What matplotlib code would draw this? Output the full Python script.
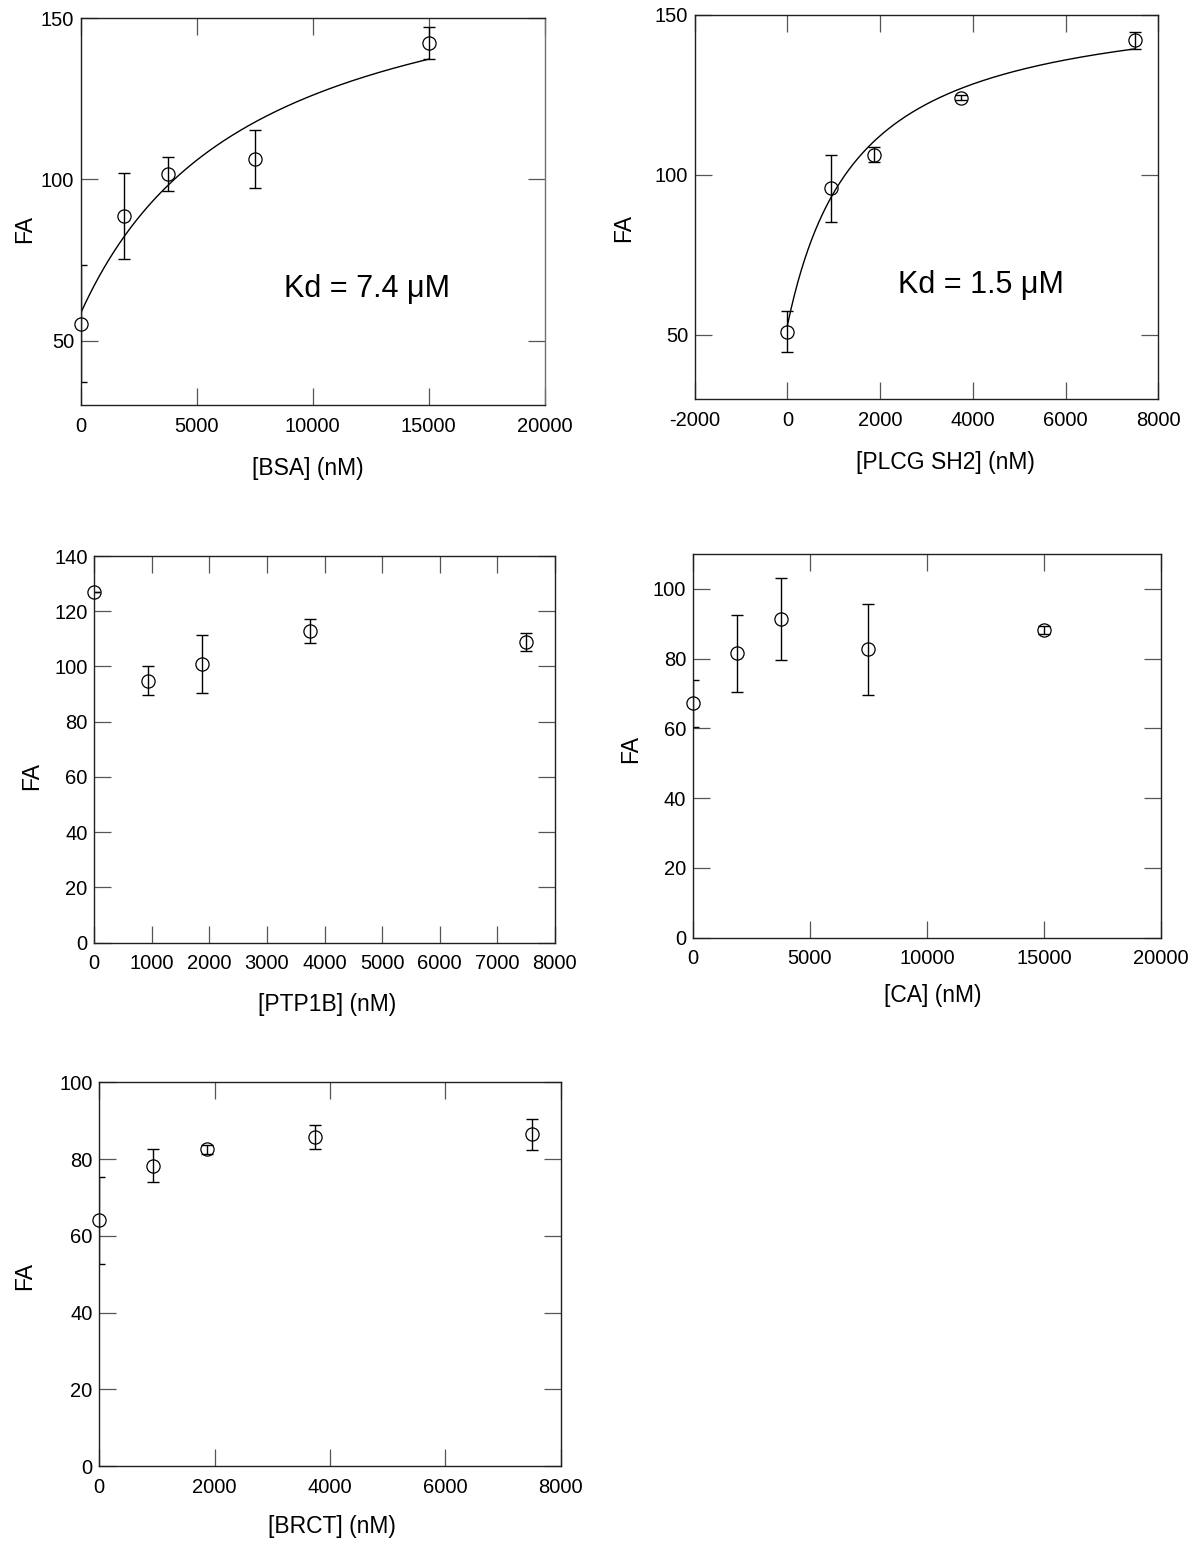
import numpy as np
import matplotlib
matplotlib.use("Agg")
import matplotlib.pyplot as plt

plt.rcParams['font.family'] = ['Liberation Sans', 'DejaVu Sans']
plt.rcParams['axes.unicode_minus'] = False

# ---- data -------------------------------------------------------------
# BSA titration
bsa_conc = [0, 1875, 3750, 7500, 15000]
bsa_fa = [55.2, 88.6, 101.8, 106.2, 142.4]
bsa_err = [18.2, 13.3, 5.3, 9.0, 5.0]
bsa_kd = 7400          # nM
bsa_fa0, bsa_span = 58.5, 117.7

# PLCG SH2 titration
plcg_conc = [0, 937.5, 1875, 3750, 7500]
plcg_fa = [51.0, 95.8, 106.4, 124.2, 142.1]
plcg_err = [6.4, 10.5, 2.3, 0.8, 2.6]
plcg_kd = 1500         # nM
plcg_fa0, plcg_span = 53.0, 103.7

# PTP1B titration
ptp_conc = [0, 937.5, 1875, 3750, 7500]
ptp_fa = [127.1, 94.8, 100.9, 112.9, 108.8]
ptp_err = [0.0, 5.3, 10.5, 4.3, 3.2]

# CA titration
ca_conc = [0, 1875, 3750, 7500, 15000]
ca_fa = [67.2, 81.5, 91.3, 82.7, 88.3]
ca_err = [6.7, 11.1, 11.7, 13.0, 1.2]

# BRCT titration
brct_conc = [0, 937.5, 1875, 3750, 7500]
brct_fa = [64.0, 78.3, 82.5, 85.7, 86.4]
brct_err = [11.3, 4.4, 1.2, 3.1, 4.0]

# ---- figure -----------------------------------------------------------
W, H = 1193, 1543
fig = plt.figure(figsize=(W / 100, H / 100), dpi=100)


def make_axes(L, R, T, B):
    return fig.add_axes([L / W, 1 - B / H, (R - L) / W, (B - T) / H])


def style(ax, xlim, ylim, xticks, yticks, xlabel, ylabel, box, xlab_px, ylab_px):
    L, R, T, B = box
    ax.set_xlim(*xlim)
    ax.set_ylim(*ylim)
    ax.set_xticks(xticks)
    ax.set_yticks(yticks)
    ax.tick_params(axis='both', which='major', direction='in', top=True, right=True,
                   length=12, width=0.9, color='#555555', labelcolor='black',
                   labelsize=14.5)
    ax.tick_params(axis='x', pad=8.3)
    ax.tick_params(axis='y', pad=4.8)
    for sp in ax.spines.values():
        sp.set_linewidth(1.0)
        sp.set_color('#202020')
    ax.set_xlabel(xlabel, fontsize=16.5, va='center')
    ax.set_ylabel(ylabel, fontsize=16.5, va='center')
    ax.xaxis.set_label_coords((xlab_px[0] - L) / (R - L), (B - xlab_px[1]) / (B - T))
    ax.yaxis.set_label_coords((ylab_px[0] - L) / (R - L), (B - ylab_px[1]) / (B - T))


def draw_points(ax, x, y, err):
    ax.errorbar(x, y, yerr=err, fmt='none', ecolor='black', elinewidth=1.0,
                capsize=4.2, capthick=1.0, zorder=2)
    ax.plot(x, y, 'o', mfc='none', mec='black', ms=9.5, mew=0.9,
            clip_on=False, zorder=3)


def binding_curve(ax, xmax, fa0, span, kd):
    xs = np.linspace(0, xmax, 300)
    ax.plot(xs, fa0 + span * xs / (kd + xs), color='black', lw=1.0, zorder=2)


def kd_text(ax, box, pos, text):
    L, R, T, B = box
    ax.text((pos[0] - L) / (R - L), (B - pos[1]) / (B - T), text,
            transform=ax.transAxes, ha='center', va='center', fontsize=22)


# BSA panel
box1 = (80.7, 544.7, 18.3, 405.0)
ax1 = make_axes(*box1)
draw_points(ax1, bsa_conc, bsa_fa, bsa_err)
binding_curve(ax1, max(bsa_conc), bsa_fa0, bsa_span, bsa_kd)
style(ax1, (0, 20000), (30, 150), np.arange(0, 20001, 5000), [50, 100, 150],
      '[BSA] (nM)', 'FA', box1, (308, 469), (25, 229))
ax1.spines['right'].set_color('#707070')
kd_text(ax1, box1, (366.5, 289), 'Kd = %.1f \u03bcM' % (bsa_kd / 1000))

# PLCG SH2 panel
box2 = (694.7, 1158.2, 15.0, 399.0)
ax2 = make_axes(*box2)
draw_points(ax2, plcg_conc, plcg_fa, plcg_err)
binding_curve(ax2, max(plcg_conc), plcg_fa0, plcg_span, plcg_kd)
style(ax2, (-2000, 8000), (30, 150), np.arange(-2000, 8001, 2000), [50, 100, 150],
      '[PLCG SH2] (nM)', 'FA', box2, (945, 462), (623.5, 228))
kd_text(ax2, box2, (981, 285), 'Kd = %.1f \u03bcM' % (plcg_kd / 1000))

# PTP1B panel
box3 = (94.3, 554.8, 556.0, 942.7)
ax3 = make_axes(*box3)
draw_points(ax3, ptp_conc, ptp_fa, ptp_err)
style(ax3, (0, 8000), (0, 140), np.arange(0, 8001, 1000), np.arange(0, 141, 20),
      '[PTP1B] (nM)', 'FA', box3, (327, 1005), (32, 775.7))

# CA panel
box4 = (692.8, 1161.3, 554.0, 937.7)
ax4 = make_axes(*box4)
draw_points(ax4, ca_conc, ca_fa, ca_err)
style(ax4, (0, 20000), (0, 110), np.arange(0, 20001, 5000), np.arange(0, 101, 20),
      '[CA] (nM)', 'FA', box4, (933, 995.7), (630.5, 748.7))

# BRCT panel
box5 = (99.3, 560.5, 1082.3, 1466.0)
ax5 = make_axes(*box5)
draw_points(ax5, brct_conc, brct_fa, brct_err)
style(ax5, (0, 8000), (0, 100), np.arange(0, 8001, 2000), np.arange(0, 101, 20),
      '[BRCT] (nM)', 'FA', box5, (332, 1526.7), (24.8, 1276))

fig.savefig('out.png', dpi=100)
